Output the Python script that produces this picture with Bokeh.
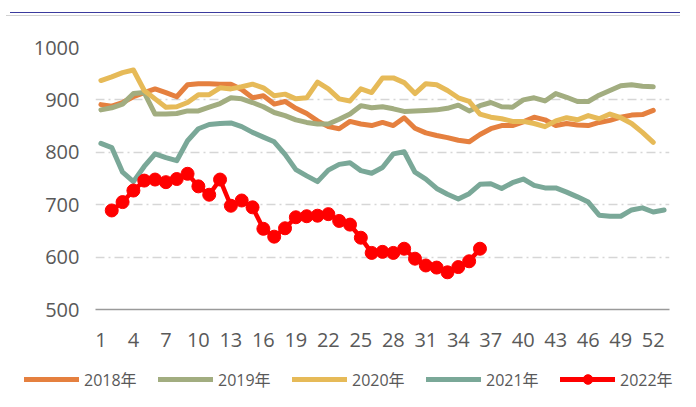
from bokeh.plotting import figure
from bokeh.models import Range1d, FixedTicker, Legend, LegendItem, Div
from bokeh.layouts import column
from bokeh.embed import file_html
from bokeh.resources import INLINE

weeks = list(range(1, 54))
tick_weeks = list(range(1, 53, 3))
y_ticks = [500, 600, 700, 800, 900, 1000]

v2018 = [891, 888, 895, 906, 914, 921, 914, 906, 929, 931, 931, 930, 930, 920, 904, 908, 892,
         897, 884, 874, 860, 849, 845, 859, 854, 851, 857, 851, 866, 846, 837, 832, 828, 823,
         820, 834, 845, 851, 851, 858, 867, 862, 851, 855, 852, 851, 857, 861, 867, 871, 872, 880]
v2019 = [881, 885, 892, 912, 914, 873, 873, 874, 879, 879, 886, 893, 904, 902, 895, 887, 876,
         870, 862, 857, 854, 854, 863, 873, 889, 885, 887, 883, 878, 879, 880, 881, 884, 890,
         879, 889, 895, 887, 886, 900, 904, 898, 912, 905, 897, 897, 909, 918, 927, 929, 926, 925]
v2020 = [937, 944, 952, 957, 918, 902, 886, 887, 895, 910, 910, 923, 921, 925, 930, 923, 908,
         911, 902, 904, 934, 921, 902, 898, 921, 914, 942, 942, 933, 912, 931, 929, 918, 904,
         897, 873, 867, 864, 859, 859, 855, 849, 860, 866, 862, 870, 864, 873, 866, 855, 838, 819]
v2021 = [817, 809, 762, 744, 773, 797, 790, 784, 822, 845, 853, 855, 856, 849, 838, 829, 820,
         796, 767, 755, 744, 766, 777, 780, 765, 760, 771, 797, 801, 762, 749, 731, 720, 711,
         721, 739, 740, 731, 742, 749, 737, 732, 732, 724, 715, 705, 680, 678, 678, 690, 694,
         686, 690]
weeks2022 = list(range(2, 37))
v2022 = [689, 705, 727, 746, 748, 743, 749, 759, 735, 719, 748, 698, 708, 695, 654, 639, 655,
         676, 678, 679, 682, 669, 662, 637, 608, 610, 608, 616, 597, 584, 580, 571, 581, 592, 616]

series = [
    ("2018年", v2018, "#E5803F"),
    ("2019年", v2019, "#A2AD80"),
    ("2020年", v2020, "#E6BA58"),
    ("2021年", v2021, "#7AA898"),
]

FONT = "Open Sans, 'Noto Sans CJK SC'"
TXT = "#595959"
RED = "#FF0000"

# thin navy rule and grey box edge above the chart
header = Div(width=680, height=16, margin=0, text=(
    '<div style="position:absolute;left:10px;top:12px;width:670px;height:0;'
    'border-top:1.5px solid #3B3B9E"></div>'
    '<div style="position:absolute;left:6px;top:15px;width:674px;height:0;'
    'border-top:1.5px solid #D2D2D2"></div>'))

p = figure(width=680, height=340, output_backend="svg", toolbar_location=None,
           x_range=Range1d(0.5, 53.5), y_range=Range1d(500, 1000),
           min_border_left=95, min_border_right=11, min_border_top=31, min_border_bottom=47)
p.outline_line_color = None
p.frame_align = False

p.xaxis.ticker = FixedTicker(ticks=tick_weeks)
p.yaxis.ticker = FixedTicker(ticks=y_ticks)
for ax in (p.xaxis, p.yaxis):
    ax.major_tick_in = 0
    ax.major_tick_out = 0
    ax.minor_tick_in = 0
    ax.minor_tick_out = 0
    ax.major_label_text_font = FONT
    ax.major_label_text_font_size = "20px"
    ax.major_label_text_color = TXT
p.yaxis.axis_line_color = None
p.yaxis.major_label_standoff = 16
p.xaxis.axis_line_color = "#9A9A9A"
p.xaxis.axis_line_width = 1.5
p.xaxis.major_label_standoff = 23

p.xgrid.grid_line_color = None
p.ygrid.grid_line_color = "#D6D6D6"
p.ygrid.grid_line_width = 1.3
p.ygrid.grid_line_dash = "9 4 2 4"

for name, vals, col in series:
    n = len(vals)
    p.line(weeks[:n], vals, line_color=col, line_width=5, line_cap="round", line_join="round")
p.line(weeks2022, v2022, line_color=RED, line_width=4.5, line_cap="round", line_join="round")
p.scatter(weeks2022, v2022, size=13, fill_color=RED, line_color=RED)

# legend strip under the chart (swatch renderers sit outside the visible range)
lf = figure(width=680, height=35, output_backend="svg", toolbar_location=None,
            x_axis_type=None, y_axis_type=None, x_range=Range1d(0, 1), y_range=Range1d(0, 1),
            min_border=0)
lf.outline_line_color = None
lf.grid.grid_line_color = None
lf.frame_align = False
items = []
for name, vals, col in series:
    r = lf.line([-5, -4], [-5, -4], line_color=col, line_width=5, line_cap="round")
    items.append(LegendItem(label=name, renderers=[r]))
rl = lf.line([-5, -4], [-5, -4], line_color=RED, line_width=5, line_cap="round")
rc = lf.scatter([-5], [-5], size=13, fill_color=RED, line_color=RED)
items.append(LegendItem(label="2022年", renderers=[rl, rc]))

legend = Legend(items=items, orientation="horizontal", location=(24, 0),
                glyph_width=55, glyph_height=24, label_height=24, label_width=53,
                label_standoff=5, spacing=21, padding=0, margin=0,
                label_text_font=FONT, label_text_font_size="16px", label_text_color=TXT,
                border_line_color=None, background_fill_alpha=0)
lf.add_layout(legend, "center")

open("out.html", "w").write(file_html(column(header, p, lf, spacing=0), INLINE))
